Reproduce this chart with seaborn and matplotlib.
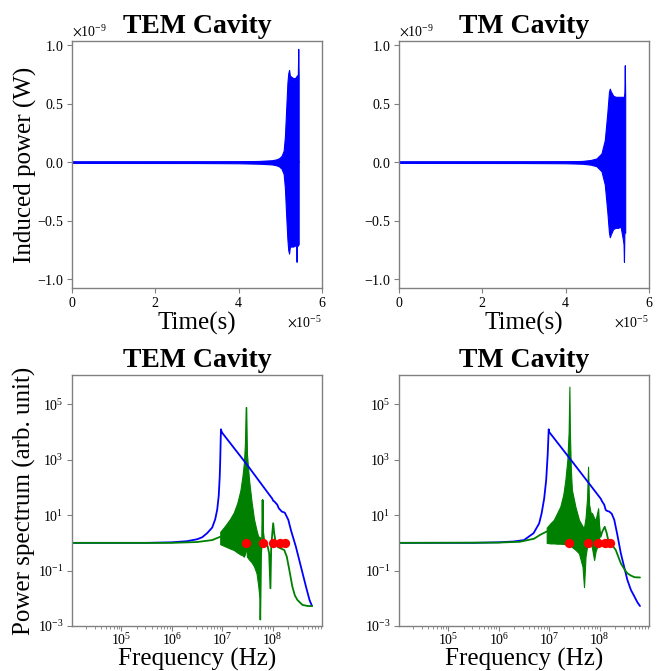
import numpy as np
import seaborn as sns
import matplotlib
matplotlib.use("Agg")
import matplotlib.pyplot as plt

# ---- time domain: envelope of induced power (t in 1e-5 s, P in 1e-9 W) ----
tem_t = [0.0, 3.0, 4.0, 4.5, 4.8, 4.9, 4.97, 5.03, 5.08, 5.11, 5.14, 5.17, 5.19,
         5.21, 5.23, 5.27, 5.31, 5.35, 5.38, 5.39, 5.40, 5.42, 5.43, 5.44]
tem_upper = [0.005, 0.006, 0.008, 0.012, 0.018, 0.025, 0.035, 0.055, 0.10, 0.22, 0.45,
             0.68, 0.76, 0.79, 0.74, 0.73, 0.72, 0.72, 0.73, 0.74, 0.74, 0.75, 0.97, 0.74]
tem_lower = [-0.005, -0.006, -0.008, -0.012, -0.018, -0.025, -0.035, -0.055, -0.10, -0.22,
             -0.45, -0.66, -0.75, -0.78, -0.72, -0.72, -0.72, -0.71, -0.72, -0.85, -0.72,
             -0.71, -0.70, -0.70]

tm_t = [0.0, 3.0, 4.0, 4.4, 4.6, 4.74, 4.86, 4.94, 5.0, 5.04, 5.06, 5.08, 5.14, 5.2,
        5.26, 5.32, 5.37, 5.39, 5.40, 5.41, 5.42, 5.43]
tm_upper = [0.005, 0.006, 0.008, 0.012, 0.02, 0.033, 0.076, 0.19, 0.42, 0.6, 0.63, 0.61,
            0.57, 0.56, 0.56, 0.56, 0.56, 0.56, 0.56, 0.6, 0.83, 0.56]
tm_lower = [-0.005, -0.006, -0.008, -0.012, -0.02, -0.033, -0.076, -0.19, -0.42, -0.6,
            -0.64, -0.62, -0.57, -0.56, -0.56, -0.55, -0.65, -0.7, -0.85, -0.6, -0.6, -0.6]

# ---- spectra (log10 frequency, log10 power) ----
tem_blue_lf = [4.0, 5.5, 6.0, 6.3, 6.5, 6.6, 6.7, 6.8, 6.86, 6.9, 6.93, 6.95, 6.96, 6.97,
               6.975, 6.98, 7.0, 7.5, 7.96, 7.99, 8.01, 8.03, 8.06, 8.09, 8.12, 8.14, 8.18,
               8.24, 8.31, 8.36, 8.46, 8.56, 8.66, 8.73, 8.78]
tem_blue_lp = [0.0, 0.0, 0.02, 0.06, 0.13, 0.2, 0.35, 0.55, 0.85, 1.2, 1.7, 2.4, 3.0, 3.8,
               4.1, 4.05, 3.97, 2.8, 1.67, 1.6, 1.52, 1.5, 1.44, 1.38, 1.25, 1.21, 1.13,
               1.09, 0.83, 0.47, -0.14, -0.86, -1.58, -2.06, -2.28]

tem_green_left_lf = [4.0, 6.0, 6.5, 6.8, 6.96]
tem_green_left_lp = [0.0, 0.0, 0.03, 0.1, 0.22]
tem_band_lf = [6.96, 7.05, 7.15, 7.23, 7.3, 7.36, 7.4, 7.43, 7.45, 7.465, 7.475, 7.49,
               7.53, 7.58, 7.63, 7.68, 7.71, 7.74, 7.75]
tem_band_lo = [-0.05, -0.12, -0.2, -0.26, -0.35, -0.42, -0.45, -0.5, -0.4, -0.2, -0.2,
               -0.5, -0.6, -0.7, -0.85, -1.1, -1.5, -2.0, -2.76]
tem_band_hi = [0.4, 0.6, 0.85, 1.1, 1.45, 1.9, 2.4, 2.9, 3.6, 4.9, 4.9, 3.2, 2.3, 1.5,
               0.85, 0.45, 0.25, 0.2, 0.2]
tem_green_right_lf = [7.75, 7.77, 7.79, 7.80, 7.81, 7.83, 7.87, 7.9, 7.93, 7.955, 7.97,
                      7.99, 8.01, 8.03, 8.06, 8.1, 8.16, 8.23, 8.28, 8.33, 8.39, 8.44,
                      8.49, 8.59, 8.7, 8.78]
tem_green_right_lp = [-2.76, -0.38, 0.2, 1.55, 0.4, 0.1, -0.02, -0.12, -0.38, -1.64,
                      -0.2, 0.3, 0.71, 0.35, 0.0, -0.15, -0.2, -0.26, -0.5, -0.98, -1.58,
                      -1.9, -2.06, -2.24, -2.28, -2.28]
tem_modes_f = [3.0e7, 6.4e7, 1.0e8, 1.37e8, 1.75e8]

tm_blue_lf = [4.0, 5.5, 6.0, 6.3, 6.5, 6.69, 6.8, 6.85, 6.9, 6.94, 6.97, 6.99, 7.0, 7.5,
              7.99, 8.02, 8.05, 8.09, 8.12, 8.15, 8.19, 8.24, 8.29, 8.35, 8.42, 8.55,
              8.62, 8.69, 8.75, 8.8]
tm_blue_lp = [0.0, 0.0, 0.02, 0.05, 0.1, 0.35, 0.7, 1.07, 1.6, 2.27, 3.2, 4.1, 4.0, 2.83,
              1.67, 1.6, 1.49, 1.38, 1.19, 1.15, 1.13, 1.05, 0.83, 0.3, -0.38, -1.34,
              -1.7, -1.94, -2.15, -2.28]

tm_green_left_lf = [4.0, 6.0, 6.42, 6.7, 6.82, 6.95]
tm_green_left_lp = [0.0, 0.01, 0.04, 0.15, 0.29, 0.41]
tm_band_lf = [6.95, 7.02, 7.09, 7.15, 7.22, 7.28, 7.32, 7.36, 7.385, 7.40, 7.41, 7.43,
              7.45, 7.52, 7.59, 7.66, 7.69, 7.72, 7.75, 7.77, 7.79, 7.82, 7.85, 7.89,
              7.92, 7.97, 7.99]
tm_band_lo = [0.0, -0.02, -0.02, -0.03, -0.03, -0.04, -0.05, -0.05, -0.05, -0.05, -0.05,
              -0.1, -0.15, -0.25, -0.38, -0.86, -1.6, -0.5, -0.14, -0.1, -0.05, -0.01,
              -0.2, -0.62, -0.3, -0.05, 0.0]
tm_band_hi = [0.55, 0.7, 0.83, 1.05, 1.31, 1.75, 2.27, 3.0, 4.0, 5.64, 4.0, 2.6, 1.91,
              1.3, 0.83, 0.6, 0.55, 0.9, 1.6, 2.75, 1.4, 1.1, 1.07, 0.9, 0.83, 1.25, 0.6]
tm_green_right_lf = [7.99, 8.02, 8.05, 8.1, 8.14, 8.17, 8.22, 8.32, 8.42, 8.5, 8.55,
                     8.62, 8.69, 8.8]
tm_green_right_lp = [0.6, 0.22, 0.4, 0.58, 0.35, 0.1, -0.01, -0.26, -0.74, -0.98, -1.1,
                     -1.18, -1.24, -1.25]
tm_modes_f = [2.5e7, 5.75e7, 9.3e7, 1.26e8, 1.62e8]

titles = ["TEM Cavity", "TM Cavity"]

sns.set_style("ticks", {"axes.edgecolor": "#808080", "xtick.color": "#808080",
                        "ytick.color": "#808080", "text.color": "black",
                        "axes.labelcolor": "black"})
plt.rcParams["font.family"] = ["Liberation Serif", "DejaVu Serif"]
plt.rcParams["mathtext.fontset"] = "stix"
plt.rcParams["axes.formatter.use_mathtext"] = True
plt.rcParams["xtick.labelcolor"] = "black"
plt.rcParams["ytick.labelcolor"] = "black"
plt.rcParams["axes.titlecolor"] = "black"

fig = plt.figure(figsize=(6.62, 6.71), dpi=100)
lefts = [0.1088, 0.6027]
time_axes = [fig.add_axes([l, 0.5708, 0.3776, 0.3681]) for l in lefts]
spec_axes = [fig.add_axes([l, 0.0671, 0.3776, 0.3741]) for l in lefts]

time_sets = [(tem_t, tem_upper, tem_lower), (tm_t, tm_upper, tm_lower)]
for ax, (t, up, lo), title in zip(time_axes, time_sets, titles):
    t_s = np.array(t) * 1e-5
    ax.fill_between(t_s, np.array(lo) * 1e-9, np.array(up) * 1e-9,
                    color="blue", linewidth=0.8, edgecolor="blue")
    sns.lineplot(x=t_s, y=np.zeros(len(t_s)), ax=ax, color="blue", linewidth=1.2,
                 estimator=None, sort=False)
    ax.set_xlim(0, 6e-5)
    ax.set_ylim(-1.074e-9, 1.037e-9)
    ax.set_xticks([0, 2e-5, 4e-5, 6e-5])
    ax.set_yticks([-1e-9, -0.5e-9, 0, 0.5e-9, 1e-9])
    ax.set_title(title, fontsize=20, fontweight="bold")
    ax.set_xlabel("Time(s)", fontsize=18, labelpad=1)

time_axes[0].set_ylabel("Induced power (W)", fontsize=18, labelpad=0)

spec_sets = [
    (tem_blue_lf, tem_blue_lp, tem_green_left_lf, tem_green_left_lp, tem_band_lf,
     tem_band_lo, tem_band_hi, tem_green_right_lf, tem_green_right_lp, tem_modes_f),
    (tm_blue_lf, tm_blue_lp, tm_green_left_lf, tm_green_left_lp, tm_band_lf,
     tm_band_lo, tm_band_hi, tm_green_right_lf, tm_green_right_lp, tm_modes_f),
]
for ax, s, title in zip(spec_axes, spec_sets, titles):
    blf, blp, glf, glp, bdf, bdlo, bdhi, grf, grp, modes = s
    sns.lineplot(x=10 ** np.array(blf), y=10 ** np.array(blp), ax=ax, color="blue",
                 linewidth=1.3, estimator=None, sort=False)
    sns.lineplot(x=10 ** np.array(glf), y=10 ** np.array(glp), ax=ax, color="green",
                 linewidth=1.3, estimator=None, sort=False)
    ax.fill_between(10 ** np.array(bdf), 10 ** np.array(bdlo), 10 ** np.array(bdhi),
                    color="green", edgecolor="green", linewidth=0.8)
    sns.lineplot(x=10 ** np.array(grf), y=10 ** np.array(grp), ax=ax, color="green",
                 linewidth=1.3, estimator=None, sort=False)
    sns.scatterplot(x=modes, y=np.ones(len(modes)), ax=ax, color="red", s=45,
                    linewidth=0, zorder=5)
    ax.set_xscale("log")
    ax.set_yscale("log")
    ax.set_xlim(1.05e4, 9.5e8)
    ax.set_ylim(1e-3, 1.15e6)
    ax.set_yticks([1e-3, 1e-1, 1e1, 1e3, 1e5])
    ax.minorticks_on()
    ax.yaxis.set_minor_locator(matplotlib.ticker.NullLocator())
    ax.set_title(title, fontsize=20, fontweight="bold")
    ax.set_xlabel("Frequency (Hz)", fontsize=18, labelpad=0)

spec_axes[0].set_ylabel("Power spectrum (arb. unit)", fontsize=18, labelpad=1)

for ax in time_axes + spec_axes:
    ax.tick_params(labelsize=10, length=3.5, width=0.8, pad=2.5)
    ax.tick_params(which="minor", length=2, width=0.6)
    for sp in ax.spines.values():
        sp.set_linewidth(1.0)
    ax.xaxis.get_offset_text().set_fontsize(10)
    ax.yaxis.get_offset_text().set_fontsize(10)

for ax in spec_axes:
    ax.tick_params(axis="x", which="both", pad=1)

fig.savefig("out.png", dpi=100)
